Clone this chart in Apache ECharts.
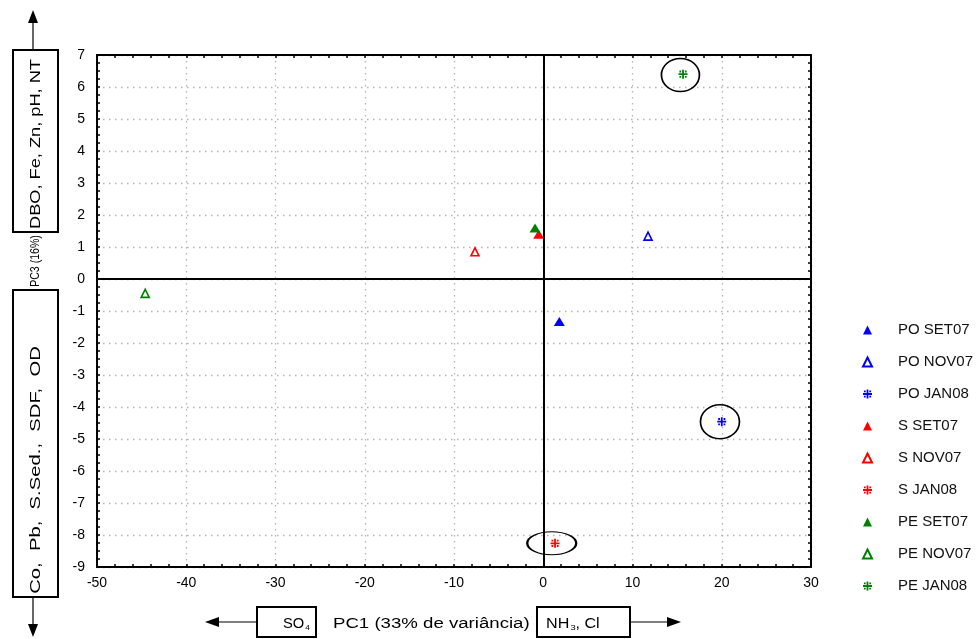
<!DOCTYPE html>
<html><head><meta charset="utf-8">
<script src="https://cdn.jsdelivr.net/npm/echarts@6/dist/echarts.min.js"></script>
<style>html,body{margin:0;padding:0;background:#fff}#c{width:980px;height:639px}</style>
</head><body><div id="c"></div>
<script>
const names = ['PO SET07','PO NOV07','PO JAN08','S SET07','S NOV07','S JAN08','PE SET07','PE NOV07','PE JAN08'];
const pc1 = [1.8, 11.74, 20.0, -0.51, -7.65, 1.32, -0.92, -44.6, 15.66];
const pc3 = [-1.33, 1.34, -4.46, 1.40, 0.85, -8.26, 1.59, -0.45, 6.40];
const colors = ['#0000ff','#0000ff','#0000ff','#ff0000','#ff0000','#ff0000','#008000','#008000','#008000'];
const kinds = ['filled','open','star','filled','open','star','filled','open','star'];
// highlighted (circled) points
const ringX = [15.37, 19.8, 0.95];
const ringY = [6.375, -4.46, -8.26];
const ringW = [38, 39, 49];
const ringH = [33, 34, 23];
const xMin = -50, xMax = 30, xStep = 10;
const yMin = -9, yMax = 7, yStep = 1;

const FONT = 'Liberation Sans, Arial, sans-serif';
const starPath = 'path://M4,0h2v10h-2z M0,4h10v2h-10z M1,1h2v2h-2z M7,1h2v2h-2z M1,7h2v2h-2z M7,7h2v2h-2z';

const series = names.map((n, i) => {
  const k = kinds[i];
  const s = {
    name: n, type: 'scatter', xAxisIndex: 0, yAxisIndex: 0,
    data: [[pc1[i], pc3[i]]],
    z: 5
  };
  if (k === 'filled') {
    s.symbol = 'triangle'; s.symbolSize = [11, 9];
    s.itemStyle = { color: colors[i], opacity: 1 };
  } else if (k === 'open') {
    s.symbol = 'triangle'; s.symbolSize = [8, 8];
    s.itemStyle = { color: '#fff', borderColor: colors[i], borderWidth: 1.6, opacity: 1 };
  } else {
    s.symbol = starPath; s.symbolSize = [9, 9];
    s.itemStyle = { color: colors[i], opacity: 1 };
  }
  return s;
});

series.push({
  name: 'rings', type: 'scatter', xAxisIndex: 0, yAxisIndex: 0, silent: true, z: 4,
  data: ringX.map((x, i) => ({ value: [x, ringY[i]], symbolSize: [ringW[i], ringH[i]] })),
  symbol: 'circle',
  itemStyle: { color: 'rgba(0,0,0,0)', borderColor: '#000', borderWidth: 1.6, opacity: 1 }
});
series.push({
  name: 'zero', type: 'line', xAxisIndex: 0, yAxisIndex: 0, data: [], silent: true,
  markLine: {
    silent: true, symbol: 'none', label: { show: false },
    lineStyle: { color: '#000', width: 2, type: 'solid' },
    data: [{ xAxis: 0 }, { yAxis: 0 }]
  }
});

const axisCommon = {
  axisLine: { show: true, onZero: false, lineStyle: { color: '#000', width: 2 } },
  axisTick: { show: true, inside: true, length: 3, lineStyle: { color: '#000', width: 1.5 } },
  minorTick: { show: true, length: 3, lineStyle: { color: '#000', width: 1.5 } },
  splitLine: { show: false }, minorSplitLine: { show: false }
};
const gridLine = { show: true, lineStyle: { color: '#b4b4b4', width: 1.3, type: [1.5, 4.5] } };
const subRich = { s: { fontSize: 8, fontFamily: FONT, fill: '#000', padding: [8, 0, 0, 1] } };

const option = {
  animation: false,
  backgroundColor: '#fff',
  grid: { left: 97, top: 55, right: 169, bottom: 72, containLabel: false },
  xAxis: [
    Object.assign({}, axisCommon, {
      type: 'value', min: xMin, max: xMax, interval: xStep, position: 'bottom',
      minorTick: Object.assign({}, axisCommon.minorTick, { splitNumber: 5 }),
      splitLine: gridLine,
      axisLabel: { color: '#000', fontSize: 14, fontFamily: FONT, margin: 9 }
    }),
    Object.assign({}, axisCommon, {
      type: 'value', min: xMin, max: xMax, interval: xStep, position: 'top',
      minorTick: Object.assign({}, axisCommon.minorTick, { splitNumber: 5 }),
      axisLabel: { show: false }
    })
  ],
  yAxis: [
    Object.assign({}, axisCommon, {
      type: 'value', min: yMin, max: yMax, interval: yStep, position: 'left',
      minorTick: Object.assign({}, axisCommon.minorTick, { splitNumber: 4 }),
      splitLine: gridLine,
      axisLabel: { color: '#000', fontSize: 14, fontFamily: FONT, margin: 12 }
    }),
    Object.assign({}, axisCommon, {
      type: 'value', min: yMin, max: yMax, interval: yStep, position: 'right',
      minorTick: Object.assign({}, axisCommon.minorTick, { splitNumber: 4 }),
      axisLabel: { show: false }
    })
  ],
  legend: {
    data: names, orient: 'vertical', left: 857, top: 317,
    itemWidth: 9, itemHeight: 9, itemGap: 16,
    textStyle: { color: '#111', fontSize: 15, fontFamily: FONT, lineHeight: 16, padding: [0, 0, 0, 21] },
    selectedMode: false
  },
  series: series,
  graphic: [
    // left annotations
    { type: 'rect', shape: { x: 13, y: 50, width: 45, height: 182 }, style: { fill: 'none', stroke: '#000', lineWidth: 2 } },
    { type: 'text', x: 36, y: 144, rotation: Math.PI / 2, scaleX: 1.3,
      style: { text: 'DBO, Fe, Zn, pH, NT', fill: '#000', font: '14px ' + FONT, align: 'center', verticalAlign: 'middle' } },
    { type: 'text', x: 36, y: 261, rotation: Math.PI / 2, scaleX: 0.88,
      style: { text: 'PC3 (16%)', fill: '#000', font: '12px ' + FONT, align: 'center', verticalAlign: 'middle' } },
    { type: 'rect', shape: { x: 13, y: 290, width: 45, height: 307 }, style: { fill: 'none', stroke: '#000', lineWidth: 2 } },
    { type: 'text', x: 36, y: 470, rotation: Math.PI / 2, scaleX: 1.35,
      style: { text: 'Co,  Pb,  S.Sed.,  SDF,  OD', fill: '#000', font: '15px ' + FONT, align: 'center', verticalAlign: 'middle' } },
    { type: 'line', shape: { x1: 33, y1: 50, x2: 33, y2: 20 }, style: { stroke: '#000', lineWidth: 1.2 } },
    { type: 'polygon', shape: { points: [[33, 10], [28, 23], [38, 23]] }, style: { fill: '#000' } },
    { type: 'line', shape: { x1: 33, y1: 597, x2: 33, y2: 626 }, style: { stroke: '#000', lineWidth: 1.2 } },
    { type: 'polygon', shape: { points: [[33, 637], [28, 624], [38, 624]] }, style: { fill: '#000' } },
    // bottom annotations
    { type: 'line', shape: { x1: 257, y1: 622, x2: 215, y2: 622 }, style: { stroke: '#000', lineWidth: 1.2 } },
    { type: 'polygon', shape: { points: [[205, 622], [219, 617], [219, 627]] }, style: { fill: '#000' } },
    { type: 'rect', shape: { x: 257, y: 607, width: 59, height: 30 }, style: { fill: 'none', stroke: '#000', lineWidth: 2 } },
    { type: 'text', x: 283, y: 624, scaleX: 1.05,
      style: { text: 'SO{s|4}', fill: '#000', font: '14px ' + FONT, verticalAlign: 'middle', rich: subRich } },
    { type: 'text', x: 333, y: 624, scaleX: 1.33,
      style: { text: 'PC1 (33% de variância)', fill: '#000', font: '14px ' + FONT, verticalAlign: 'middle' } },
    { type: 'rect', shape: { x: 537, y: 607, width: 93, height: 30 }, style: { fill: 'none', stroke: '#000', lineWidth: 2 } },
    { type: 'text', x: 546, y: 624, scaleX: 1.15,
      style: { text: 'NH{s|3}, Cl', fill: '#000', font: '14px ' + FONT, verticalAlign: 'middle', rich: subRich } },
    { type: 'line', shape: { x1: 630, y1: 622, x2: 670, y2: 622 }, style: { stroke: '#000', lineWidth: 1.2 } },
    { type: 'polygon', shape: { points: [[681, 622], [667, 617], [667, 627]] }, style: { fill: '#000' } }
  ]
};
const chart = echarts.init(document.getElementById('c'), null, { renderer: 'canvas' });
chart.setOption(option);
</script></body></html>
